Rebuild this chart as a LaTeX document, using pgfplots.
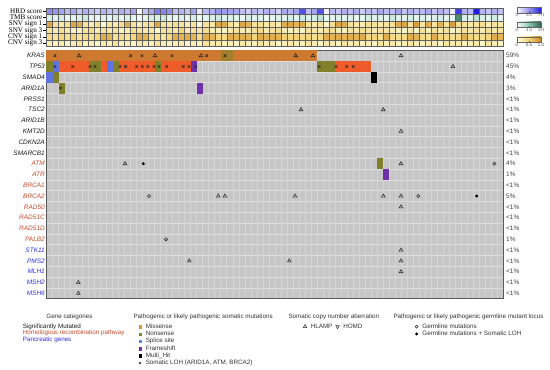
\documentclass[border=0pt]{standalone}
\usepackage{pgfplots}
\pgfplotsset{compat=1.18}
\usepackage{pgfplotstable}
\usepackage{fontspec}
\setmainfont{Liberation Sans}
\newfontfamily\tnr{Liberation Serif}

\definecolor{cellgray}{RGB}{199,199,199}
\definecolor{gridl}{RGB}{212,212,212}
\definecolor{gridr}{RGB}{222,222,222}
\definecolor{krasc}{RGB}{206,121,48}
\definecolor{krasol}{RGB}{160,128,45}
\definecolor{tpred}{RGB}{239,92,42}
\definecolor{olivec}{RGB}{128,128,42}
\definecolor{splicec}{RGB}{95,115,225}
\definecolor{framec}{RGB}{112,48,170}
\definecolor{missc}{RGB}{215,150,55}
\definecolor{nonsc}{RGB}{115,140,45}
\definecolor{splc}{RGB}{80,140,230}
\definecolor{sigc}{RGB}{25,25,25}
\definecolor{hrc}{RGB}{200,72,42}
\definecolor{panc}{RGB}{45,45,225}
\definecolor{hline}{RGB}{95,95,95}

\pgfdeclareplotmark{mcell}{\pgfpathrectangle{\pgfpoint{-3.0035bp}{-5.4bp}}{\pgfpoint{6.007bp}{10.8bp}}\pgfusepathqfill}
\pgfdeclareplotmark{hcell}{\pgfpathrectangle{\pgfpoint{-3.0035bp}{-3.21bp}}{\pgfpoint{6.007bp}{6.42bp}}\pgfusepathqfillstroke}

\pgfplotsset{
  colormap={hrdmap}{rgb255=(245,245,255) rgb255=(150,150,236) rgb255=(30,30,220)},
  colormap={tmbmap}{rgb255=(250,255,252) rgb255=(140,200,180) rgb255=(40,100,70)},
  colormap={sigmap}{rgb255=(255,255,222) rgb255=(245,210,115) rgb255=(205,138,38)},
  lgmark/.style={only marks, legend image code/.code={\path (0bp,0bp) (7bp,0bp); \draw[##1] plot coordinates {(2.2bp,0bp)};}},
  hidelg/.style={hide axis, scale only axis, width=1bp, height=1bp, xmin=0,xmax=1,ymin=0,ymax=1, anchor=south west,
    legend style={at={(0,0)}, anchor=north west, draw=none, fill=none, inner sep=0pt, outer sep=0pt, row sep=0pt,
      font=\fontsize{6.3}{7}\selectfont, text=black!80,
      nodes={inner sep=0.7bp, text height=4.5bp, text depth=1.4bp}},
    legend cell align=left},
  heat/.style={scale only axis, width=456.5bp, xmin=0, xmax=76, anchor=south west,
    xtick=\empty, ytick pos=left, tick align=outside, major tick length=3bp,
    tick style={black, line width=0.4bp},
    axis line style={draw=hline, line width=0.35bp},
    yticklabel style={font=\tnr\fontsize{7.2}{8}\selectfont, inner sep=1bp},
    point meta=explicit},
  hcellplot/.style={scatter, only marks, mark=hcell, line width=0.35bp,
    scatter/use mapped color={draw=hline, fill=mapped color}},
  cbar/.style={colorbar horizontal, colorbar style={at={(parent axis.north east)}, anchor=north west,
    xshift=14bp, yshift=#1, scale only axis, width=24bp, height=5.4bp,
    xticklabel style={font=\fontsize{4.6}{5}\selectfont, inner sep=0.6bp, text=black!70},
    major tick length=1.2bp, tick style={black!70, line width=0.3bp},
    axis line style={draw=black!60, line width=0.3bp}}}
}

\pgfplotstableread{
c hrd tmb sa sb ca cb
0.5 38 4 .8 .3 .4 .2
1.5 35 3 .3 .2 .3 .15
2.5 30 5 .25 .35 .45 .25
3.5 22 2 .35 .25 .35 .1
4.5 28 3 .8 .1 .5 .2
5.5 18 4 .75 .15 .3 .3
6.5 25 6 .3 .3 .4 .15
7.5 20 3 .2 .4 .35 .2
8.5 15 2 .35 .2 .45 .1
9.5 24 4 .05 .3 .75 .25
10.5 20 3 .3 .25 .7 .2
11.5 17 5 .25 .3 .35 .3
12.5 26 2 .35 .15 .4 .15
13.5 22 4 .75 .2 .3 .2
14.5 30 3 .3 .35 .45 .1
15.5 0 1 .2 .3 .75 .25
16.5 18 3 .3 .2 .7 .2
17.5 28 5 .35 .25 .4 .15
18.5 42 4 .8 .1 .35 .3
19.5 40 6 .3 .3 .3 .2
20.5 36 3 .25 .3 .45 .15
21.5 20 2 .35 .25 .75 .2
22.5 24 4 .3 .45 .7 .25
23.5 18 3 .2 .2 .75 .1
24.5 30 5 .3 .3 .7 .2
25.5 5 2 .05 .25 .4 .15
26.5 22 3 .3 .35 .75 .3
27.5 25 4 .25 .2 .7 .2
28.5 35 6 .8 .15 .45 .25
29.5 32 3 .75 .1 .4 .15
30.5 30 4 .3 .25 .75 .2
31.5 28 3 .2 .3 .7 .1
32.5 20 2 .8 .2 .75 .25
33.5 15 5 .7 .25 .7 .2
34.5 22 3 .3 .3 .45 .15
35.5 18 4 .35 .4 .75 .3
36.5 25 2 .25 .2 .7 .2
37.5 20 3 .3 .3 .75 .25
38.5 12 4 .2 .35 .7 .1
39.5 28 3 .75 .2 .5 .2
40.5 24 5 .8 .15 .45 .25
41.5 30 3 .7 .2 .5 .2
42.5 55 6 .75 .1 .4 .15
43.5 20 4 .3 .3 .45 .3
44.5 30 5 .25 .25 .35 .2
45.5 55 8 .3 .2 .4 .1
46.5 2 2 .05 .3 .75 .25
47.5 22 3 .35 .35 .7 .2
48.5 18 4 .8 .2 .75 .15
49.5 25 3 .75 .15 .7 .3
50.5 20 4 .3 .3 .75 .2
51.5 26 2 .25 .25 .7 .25
52.5 15 3 .2 .35 .75 .15
53.5 22 5 .35 .3 .4 .2
54.5 18 3 .3 .2 .45 .1
55.5 28 4 .25 .3 .35 .3
56.5 22 3 .3 .25 .75 .2
57.5 20 6 .3 .2 .4 .25
58.5 30 4 .75 .15 .35 .15
59.5 18 3 .8 .1 .4 .2
60.5 25 5 .3 .25 .75 .3
61.5 20 3 .85 .1 .7 .2
62.5 22 4 .25 .3 .4 .15
63.5 28 3 .75 .2 .35 .25
64.5 18 4 .3 .35 .75 .2
65.5 25 5 .7 .25 .45 .1
66.5 20 3 .3 .3 .4 .3
67.5 3 2 .85 .1 .35 .2
68.5 60 24 .35 .2 .4 .25
69.5 25 4 .3 .3 .75 .15
70.5 22 3 .25 .25 .45 .2
71.5 70 8 .3 .3 .4 .25
72.5 24 4 .35 .2 .35 .1
73.5 18 3 .2 .35 .45 .3
74.5 26 5 .3 .25 .75 .2
75.5 20 3 .25 .3 .7 .15
}\heat

\begin{document}
\begin{tikzpicture}
\path[use as bounding box] (0bp,0bp) rectangle (550bp,370bp);

% ---------- heatmap: HRD ----------
\begin{axis}[heat, at={(46.5bp,355.6bp)}, height=6.42bp, ymin=0, ymax=1,
  ytick={0.5}, yticklabels={HRD score},
  colormap name=hrdmap, point meta min=0, point meta max=70,
  cbar=9.2bp, colorbar style={xtick={0,35,70}}]
\addplot[hcellplot] table[x=c, y expr=0.5, meta=hrd] {\heat};
\end{axis}
% ---------- heatmap: TMB ----------
\begin{axis}[heat, at={(46.5bp,349.18bp)}, height=6.42bp, ymin=0, ymax=1,
  ytick={0.5}, yticklabels={TMB score},
  colormap name=tmbmap, point meta min=0, point meta max=30,
  cbar=1.2bp, colorbar style={xtick={0,15,30}}]
\addplot[hcellplot] table[x=c, y expr=0.5, meta=tmb] {\heat};
\end{axis}
% ---------- heatmap: signatures ----------
\begin{axis}[heat, at={(46.5bp,323.5bp)}, height=25.68bp, ymin=0, ymax=4, y dir=reverse,
  ytick={0.5,1.5,2.5,3.5}, yticklabels={SNV sign 1,SNV sign 3,CNV sign 1,CNV sign 3},
  colormap name=sigmap, point meta min=0, point meta max=1,
  cbar=-7.4bp, colorbar style={xtick={0,0.5,1}, xticklabels={0,0.5,1.0}}]
\addplot[hcellplot] table[x=c, y expr=0.5, meta=sa] {\heat};
\addplot[hcellplot] table[x=c, y expr=1.5, meta=sb] {\heat};
\addplot[hcellplot] table[x=c, y expr=2.5, meta=ca] {\heat};
\addplot[hcellplot] table[x=c, y expr=3.5, meta=cb] {\heat};
\end{axis}

% ---------- main oncoprint ----------
\begin{axis}[at={(46.5bp,71.3bp)}, anchor=south west, scale only axis,
  width=456.5bp, height=248.4bp, xmin=0, xmax=76, ymin=0, ymax=23, y dir=reverse,
  axis background/.style={fill=cellgray},
  axis line style={draw=black!65, line width=0.6bp},
  xtick={1,...,75}, xticklabels={}, xmajorgrids,
  major grid style={gridl, line width=0.4bp},
  minor ytick={1,...,22}, yminorgrids, minor grid style={gridr, line width=0.55bp},
  major tick length=0pt, minor tick length=0pt,
  ytick={0.5,1.5,...,22.5},
  yticklabels={\textcolor{sigc}{KRAS},\textcolor{sigc}{TP53},\textcolor{sigc}{SMAD4},\textcolor{sigc}{ARID1A},
    \textcolor{sigc}{PRSS1},\textcolor{sigc}{TSC2},\textcolor{sigc}{ARID1B},\textcolor{sigc}{KMT2D},
    \textcolor{sigc}{CDKN2A},\textcolor{sigc}{SMARCB1},
    \textcolor{hrc}{ATM},\textcolor{hrc}{ATR},\textcolor{hrc}{BRCA1},\textcolor{hrc}{BRCA2},
    \textcolor{hrc}{RAD50},\textcolor{hrc}{RAD51C},\textcolor{hrc}{RAD51D},\textcolor{hrc}{PALB2},
    \textcolor{panc}{STK11},\textcolor{panc}{PMS2},\textcolor{panc}{MLH1},\textcolor{panc}{MSH2},\textcolor{panc}{MSH6}},
  yticklabel style={font=\itshape\fontsize{6.5}{7}\selectfont, inner sep=1.5bp},
  clip=false]
% KRAS missense block
\addplot[only marks, mark=mcell, color=krasc] coordinates {
(0.5,0.5)(1.5,0.5)(2.5,0.5)(3.5,0.5)(4.5,0.5)(5.5,0.5)(6.5,0.5)(7.5,0.5)(8.5,0.5)(9.5,0.5)
(10.5,0.5)(11.5,0.5)(12.5,0.5)(13.5,0.5)(14.5,0.5)(15.5,0.5)(16.5,0.5)(17.5,0.5)(18.5,0.5)(19.5,0.5)
(20.5,0.5)(21.5,0.5)(22.5,0.5)(23.5,0.5)(24.5,0.5)(25.5,0.5)(26.5,0.5)(27.5,0.5)(28.5,0.5)
(31.5,0.5)(32.5,0.5)(33.5,0.5)(34.5,0.5)(35.5,0.5)(36.5,0.5)(37.5,0.5)(38.5,0.5)(39.5,0.5)
(40.5,0.5)(41.5,0.5)(42.5,0.5)(43.5,0.5)(44.5,0.5)};
\addplot[only marks, mark=mcell, color=krasol] coordinates {(29.5,0.5)(30.5,0.5)};
% TP53 red cells
\addplot[only marks, mark=mcell, color=tpred] coordinates {
(2.5,1.5)(3.5,1.5)(4.5,1.5)(5.5,1.5)(6.5,1.5)(9.5,1.5)
(12.5,1.5)(13.5,1.5)(14.5,1.5)(15.5,1.5)(16.5,1.5)(17.5,1.5)
(19.5,1.5)(20.5,1.5)(21.5,1.5)(22.5,1.5)(23.5,1.5)
(48.5,1.5)(49.5,1.5)(50.5,1.5)(51.5,1.5)(52.5,1.5)(53.5,1.5)};
% nonsense (olive)
\addplot[only marks, mark=mcell, color=olivec] coordinates {
(0.5,1.5)(7.5,1.5)(8.5,1.5)(11.5,1.5)(18.5,1.5)(45.5,1.5)(46.5,1.5)(47.5,1.5)
(1.5,2.5)(2.5,3.5)(55.5,10.5)};
% splice site
\addplot[only marks, mark=mcell, color=splicec] coordinates {(1.5,1.5)(10.5,1.5)(0.5,2.5)};
% frameshift
\addplot[only marks, mark=mcell, color=framec] coordinates {(24.5,1.5)(25.5,3.5)(56.5,11.5)};
% multi hit
\addplot[only marks, mark=mcell, color=black] coordinates {(54.5,2.5)};
% somatic LOH crosses
\addplot[only marks, mark=x, mark size=1.8bp, line width=0.6bp, color=black!85] coordinates {
(1.41,0.5)(14.02,0.5)(15.90,0.5)(20.89,0.5)(26.67,0.5)(29.71,0.5)
(1.41,1.5)(4.36,1.5)(7.24,1.5)(8.07,1.5)(12.24,1.5)(13.18,1.5)(15.02,1.5)(15.95,1.5)(16.85,1.5)
(17.90,1.5)(18.73,1.5)(20.01,1.5)(22.77,1.5)(23.72,1.5)(24.84,1.5)
(45.41,1.5)(48.19,1.5)(49.98,1.5)(51.07,1.5)(2.36,3.5)};
% HLAMP triangles
\addplot[only marks, mark=triangle, mark size=2.1bp, line width=0.55bp, color=black!85] coordinates {
(5.41,0.5)(18.06,0.5)(25.72,0.5)(41.48,0.5)(44.36,0.5)(59.02,0.5)
(67.67,1.5)(42.37,5.5)(56.07,5.5)(59.02,7.5)(13.07,10.5)(59.02,10.5)
(28.6,13.5)(29.71,13.5)(41.37,13.5)(56.07,13.5)(59.02,13.5)(59.02,14.5)
(59.02,18.5)(23.77,19.5)(40.42,19.5)(59.02,19.5)(59.02,20.5)(5.3,21.5)(5.3,22.5)};
% germline
\addplot[only marks, mark=o, mark size=1.6bp, line width=0.55bp, color=black!85] coordinates {
(74.55,10.5)(17.06,13.5)(61.9,13.5)(19.89,17.5)};
\addplot[only marks, mark=*, mark size=1.3bp, color=black] coordinates {(16.12,10.5)(71.62,13.5)};
\end{axis}

% ---------- percentages ----------
\begin{axis}[at={(46.5bp,71.3bp)}, anchor=south west, scale only axis,
  width=456.5bp, height=248.4bp, xmin=0, xmax=76, ymin=0, ymax=23, y dir=reverse,
  axis line style={draw=none}, xtick=\empty, ytick={0.5,1.5,...,22.5}, yticklabel pos=right,
  major tick length=0pt,
  yticklabels={59\%,45\%,4\%,3\%,<1\%,<1\%,<1\%,<1\%,<1\%,<1\%,4\%,1\%,<1\%,5\%,<1\%,<1\%,<1\%,1\%,<1\%,<1\%,<1\%,<1\%,<1\%},
  yticklabel style={font=\fontsize{6.5}{7}\selectfont, text=black!75, inner sep=1bp, xshift=2bp}]
\end{axis}

% ---------- legend: gene categories ----------
\node[font=\fontsize{6.3}{7}\selectfont, text=black!80] at (69.5bp,53.3bp) {Gene categories};
\node[anchor=west, inner sep=0pt, font=\fontsize{6.3}{7}\selectfont, text=sigc] at (22.7bp,43.5bp) {Significantly Mutated};
\node[anchor=west, inner sep=0pt, font=\fontsize{6.3}{7}\selectfont, text=hrc] at (22.7bp,36.7bp) {Homologous recombination pathway};
\node[anchor=west, inner sep=0pt, font=\fontsize{6.3}{7}\selectfont, text=panc] at (22.7bp,30bp) {Pancreatic genes};

\node[anchor=west, inner sep=0pt, font=\fontsize{6.3}{7}\selectfont, text=black!80] at (133.3bp,53.3bp) {Pathogenic or likely pathogenic somatic mutations};
\node[anchor=west, inner sep=0pt, font=\fontsize{6.3}{7}\selectfont, text=black!80] at (288.3bp,53.3bp) {Somatic copy number aberration};
\node[anchor=west, inner sep=0pt, font=\fontsize{6.3}{7}\selectfont, text=black!80] at (393.3bp,53.3bp) {Pathogenic or likely pathogenic germline mutant locus};

\begin{axis}[hidelg, at={(137.6bp,47bp)}]
\addlegendimage{lgmark, mark=square*, mark size=1.2bp, color=missc}
\addlegendentry{Missense}
\addlegendimage{lgmark, mark=square*, mark size=1.2bp, color=nonsc}
\addlegendentry{Nonsense}
\addlegendimage{lgmark, mark=square*, mark size=1.2bp, color=splc}
\addlegendentry{Splice site}
\addlegendimage{lgmark, mark=square*, mark size=1.2bp, color=framec}
\addlegendentry{Frameshift}
\addlegendimage{lgmark, mark=square*, mark size=1.2bp, color=black}
\addlegendentry{Multi\_Hit}
\addlegendimage{lgmark, mark=x, mark size=1.6bp, line width=0.5bp, color=black!85}
\addlegendentry{Somatic LOH (ARID1A, ATM, BRCA2)}
\end{axis}

\begin{axis}[hidelg, at={(302.6bp,47bp)}, legend columns=2,
  legend style={/tikz/every even column/.append style={column sep=2bp}}]
\addlegendimage{lgmark, mark=triangle, mark size=2bp, line width=0.5bp, color=black!85}
\addlegendentry{HLAMP}
\addlegendimage{lgmark, mark=triangle, mark size=2bp, line width=0.5bp, color=black!85, mark options={rotate=180}}
\addlegendentry{HOMD}
\end{axis}

\begin{axis}[hidelg, at={(414.2bp,47bp)}]
\addlegendimage{lgmark, mark=o, mark size=1.5bp, line width=0.5bp, color=black!85}
\addlegendentry{Germline mutations}
\addlegendimage{lgmark, mark=*, mark size=1.3bp, color=black}
\addlegendentry{Germline mutations + Somatic LOH}
\end{axis}
\end{tikzpicture}
\end{document}
